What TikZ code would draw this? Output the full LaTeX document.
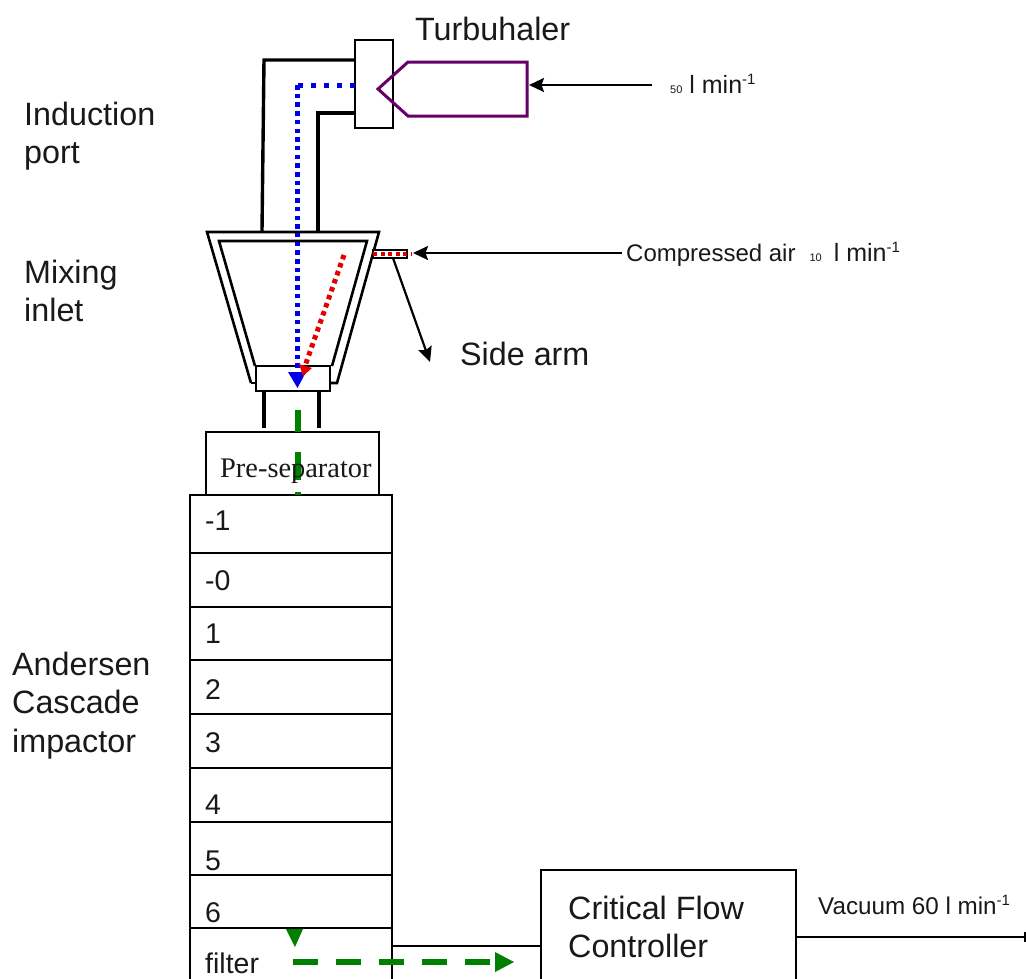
\documentclass[tikz,border=0pt]{standalone}
\usepackage{fontspec}
\setmainfont{Liberation Sans}
\newfontfamily\timesf{Liberation Serif}
\usetikzlibrary{arrows.meta}
\tikzset{
  txt/.style={anchor=base west,inner sep=0pt,text=black!90},
  big/.style={txt,font=\fontsize{32.3}{32.3}\selectfont},
  stagelabel/.style={txt,font=\fontsize{28.5}{28.5}\selectfont},
  flow/.style={txt,font=\fontsize{24}{24}\selectfont},
  wall/.style={draw=black,line width=3.4pt,line join=miter},
  thinline/.style={draw=black,line width=2pt},
  boxn/.style={draw=black,line width=2pt,inner sep=0pt,outer sep=0pt,minimum width=202pt,anchor=north west},
  pointer/.style={draw=black,line width=2.2pt,-{Stealth[length=15pt,width=14pt,inset=2.5pt]}},
  blueflow/.style={draw=blue!90!black,line width=5pt},
  redflow/.style={draw=red!90!black,line width=5pt,dash pattern=on 4.5pt off 4pt},
  greenflow/.style={draw=green!50!black,line width=6pt},
}
\begin{document}
\begin{tikzpicture}[x=1pt,y=-1pt]
\useasboundingbox (0,0) rectangle (1026,978);
\fill[white] (0,0) rectangle (1026,978);
% coupling and induction port
\coordinate (po1) at (262,231);
\coordinate (po2) at (264,60);
\coordinate (pi1) at (318,231);
\coordinate (pi2) at (318,113);
\node[thinline,anchor=north west,minimum width=38pt,minimum height=88pt,inner sep=0pt,outer sep=0pt] (coupling) at (355,40) {};
\draw[wall] (po1) -- (po2) -- (coupling.west |- po2);
\draw[wall] (pi1) -- (pi2) -- (coupling.west |- pi2);
% turbuhaler
\draw[draw=violet!80!black,line width=3pt,line join=miter]
  (527,62) -- (408,62) -- (378,89) -- (408,116) -- (527,116) -- cycle;
% mixing inlet
\draw[thinline,line width=2.6pt] (251,383) -- (256,383);
\draw[thinline,line width=2.6pt] (330,383) -- (337,383) -- (379,232) -- (207,232) -- (251,383);
\draw[thinline,line width=2.6pt] (255,366) -- (219,241) -- (367,241) -- (332,366);
\node[draw=black,line width=2.6pt,anchor=north west,minimum width=74pt,minimum height=25pt,inner sep=0pt,outer sep=0pt] (neck) at (256,366) {};
\coordinate (n1) at (264,391);
\coordinate (n2) at (319,391);
\coordinate (s1) at (264,428);
\coordinate (s2) at (319,428);
\draw[wall] (n1) -- (s1);
\draw[wall] (n2) -- (s2);
% side arm
\node[draw=black,line width=2pt,fill=white,anchor=north west,minimum width=34pt,minimum height=8pt,inner sep=0pt,outer sep=0pt] (arm) at (373,250) {};
\coordinate (armend) at (411,254);
\draw[draw=red!85!black,line width=4.5pt,dash pattern=on 4pt off 3.5pt] (arm.west) -- (armend);
% pre-separator
\node[thinline,anchor=north west,minimum width=173pt,minimum height=63pt,inner sep=0pt,outer sep=0pt] (presep) at (206,432) {};
% stages
\node[boxn,minimum height=58pt] (st1) at (190,495) {};
\node[boxn,minimum height=54pt] (st2) at (190,553) {};
\node[boxn,minimum height=53pt] (st3) at (190,607) {};
\node[boxn,minimum height=54pt] (st4) at (190,660) {};
\node[boxn,minimum height=54pt] (st5) at (190,714) {};
\node[boxn,minimum height=54pt] (st6) at (190,768) {};
\node[boxn,minimum height=53pt] (st7) at (190,822) {};
\node[boxn,minimum height=53pt] (st8) at (190,875) {};
\node[boxn,minimum height=60pt] (st9) at (190,928) {};
% controller
\node[thinline,anchor=north west,minimum width=255pt,minimum height=118pt,inner sep=0pt,outer sep=0pt] (ctrl) at (541,870) {};
\coordinate (filterout) at (392,946);
\draw[thinline] (filterout) -- (filterout -| ctrl.west);
\coordinate (vacend) at (1026,937);
\draw[thinline] (vacend -| ctrl.east) -- (vacend);
\draw[thinline] (1025,932) -- (1025,942);
% pointers
\coordinate (p50) at (652,85);
\coordinate (p50end) at (529,85);
\draw[pointer] (p50) -- (p50end);
\coordinate (pca) at (622,253);
\coordinate (pcaend) at (413,253);
\draw[pointer] (pca) -- (pcaend);
\coordinate (armroot) at (393,258);
\coordinate (armtip) at (430,362);
\draw[pointer] (armroot) -- (armtip);
% flows
\coordinate (b1) at (355,85);
\coordinate (b2) at (297,85);
\coordinate (b3) at (297,375);
\draw[blueflow,dash pattern=on 5pt off 8pt] (b1) -- (b2);
\draw[blueflow,dash pattern=on 4.5pt off 4.2pt] (b2) -- (b3);
\fill[blue!90!black] (288,372) -- (306,372) -- (297.5,388) -- cycle;
\coordinate (r1) at (344,255);
\coordinate (r2) at (305,366);
\draw[redflow] (r1) -- (r2);
\fill[red!90!black] (299,364) -- (312,368) -- (303,376) -- cycle;
\draw[greenflow] (298,410) -- (298,432);
\draw[greenflow] (298,452) -- (298,480);
\draw[greenflow] (298,492) -- (298,495);
\fill[green!50!black] (286,929) -- (303,929) -- (295,947) -- cycle;
\coordinate (g1) at (293,962);
\coordinate (g2) at (490,962);
\draw[greenflow,dash pattern=on 25pt off 18pt] (g1) -- (g2);
\fill[green!50!black] (495,952) -- (514,962) -- (495,972) -- cycle;
% text
\node[big] (t1) at (415,40) {Turbuhaler};
\node[big] (t2) at (24,125) {Induction};
\node[big] (t3) at (24,163) {port};
\node[big] (t4) at (24,283) {Mixing};
\node[big] (t5) at (24,321) {inlet};
\node[big] (t6) at (460,365) {Side arm};
\node[big] (t7) at (12,675) {Andersen};
\node[big] (t8) at (12,713) {Cascade};
\node[big] (t9) at (12,752) {impactor};
\node[big] (t10) at (568,919) {Critical Flow};
\node[big] (t11) at (568,957) {Controller};
\node[txt,font=\timesf\fontsize{28.4}{28.4}\selectfont] (t12) at (220,477) {Pre-separator};
\node[stagelabel] (l1) at (205,530) {-1};
\node[stagelabel] (l2) at (205,590) {-0};
\node[stagelabel] (l3) at (205,643) {1};
\node[stagelabel] (l4) at (205,699) {2};
\node[stagelabel] (l5) at (205,752) {3};
\node[stagelabel] (l6) at (205,814) {4};
\node[stagelabel] (l7) at (205,870) {5};
\node[stagelabel] (l8) at (205,922) {6};
\node[stagelabel] (l9) at (205,973) {filter};
\node[flow] (f1) at (670,93) {\fontsize{11}{11}\selectfont 50\hspace{7pt}\fontsize{25}{25}\selectfont l min\raisebox{9pt}{\fontsize{15}{15}\selectfont -1}};
\node[flow] (f2) at (626,261) {Compressed air\hspace{14pt}\fontsize{11}{11}\selectfont 10\hspace{12pt}\fontsize{25}{25}\selectfont l min\raisebox{9pt}{\fontsize{15}{15}\selectfont -1}};
\node[flow,font=\fontsize{24.2}{24.2}\selectfont] (f3) at (818,914) {Vacuum 60 l min\raisebox{9pt}{\fontsize{15}{15}\selectfont -1}};
\end{tikzpicture}
\end{document}
